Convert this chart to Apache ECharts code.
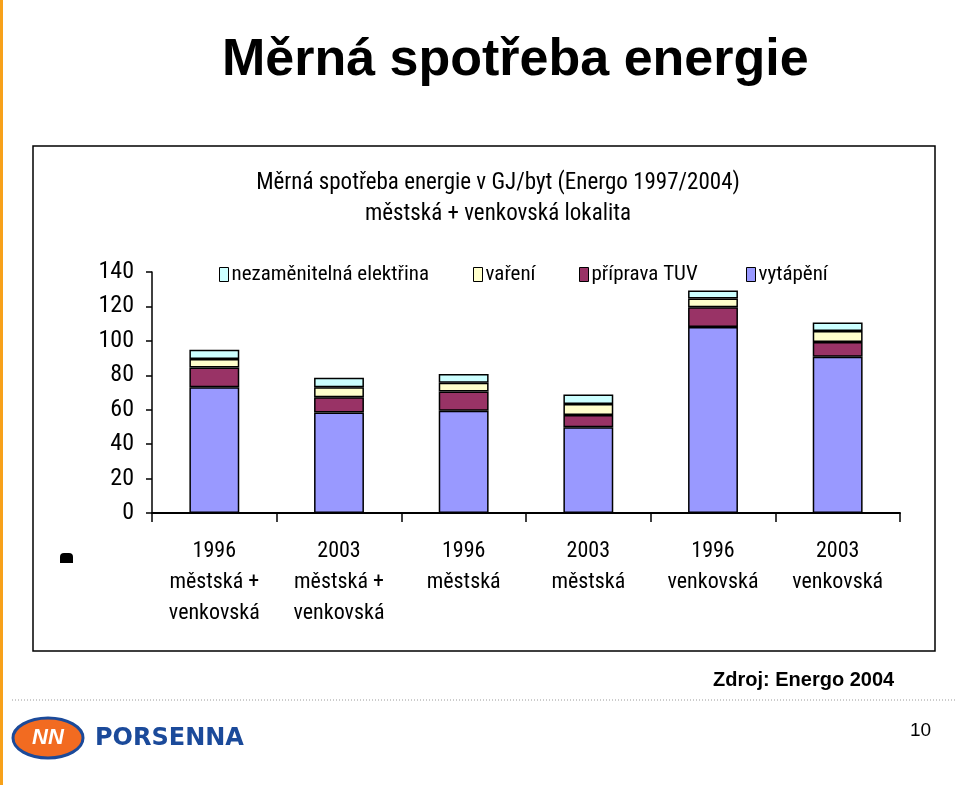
<!DOCTYPE html>
<html><head><meta charset="utf-8">
<script src="https://cdn.jsdelivr.net/npm/echarts@6/dist/echarts.min.js"></script>
<style>html,body{margin:0;padding:0;background:#fff}#c{width:960px;height:785px}</style>
</head><body><div id="c"></div>
<script>
var categories = ['1996\nměstská +\nvenkovská','2003\nměstská +\nvenkovská','1996\nměstská','2003\nměstská','1996\nvenkovská','2003\nvenkovská'];
var vytapeni   = [73.1, 58.4, 59.4, 49.8, 108.1, 90.8];
var pripravaTUV = [11.4, 8.8, 11.2, 7.2, 11.4, 8.6];
var vareni     = [4.9, 5.9, 5.1, 6.3, 5.1, 6.3];
var elektrina  = [5.5, 5.5, 5.1, 5.5, 4.7, 4.9];
var yTicks = [0,20,40,60,80,100,120,140];

var NF = '"Roboto Condensed","Liberation Sans",sans-serif';
var SF = '"Liberation Sans",Arial,sans-serif';
var names = ['nezaměnitelná elektřina','vaření','příprava TUV','vytápění'];
var colors = {'nezaměnitelná elektřina':'#CCFFFF','vaření':'#FFFFCC','příprava TUV':'#993366','vytápění':'#9999FF'};
var legendLeft = [214, 468, 574, 741];

function ser(name, data){
  return {name:name, type:'bar', stack:'s', data:data, barWidth:'40%',
    itemStyle:{color:colors[name], borderColor:'#000', borderWidth:1.5}};
}

var chart = echarts.init(document.getElementById('c'));
chart.setOption({
  animation:false,
  title:{text:'Měrná spotřeba energie v GJ/byt (Energo 1997/2004)\nměstská + venkovská lokalita',
    left:493, textAlign:'center', top:163,
    textStyle:{fontFamily:NF, fontSize:23, fontWeight:'normal', color:'#000', lineHeight:31}},
  legend: names.map(function(n,i){
    return {data:[n], left:legendLeft[i], top:259, itemWidth:9, itemHeight:14,
      icon:'rect', itemStyle:{borderColor:'#000', borderWidth:1}, itemGap:4,
      textStyle:{fontFamily:NF, fontSize:21, color:'#000', padding:[0,0,0,-2]}, selectedMode:false};
  }),
  grid:{left:152, right:60, top:272, bottom:272},
  xAxis:{type:'category', data:categories,
    axisLine:{lineStyle:{color:'#000', width:2}},
    axisTick:{show:true, length:9, lineStyle:{color:'#000', width:1.5}},
    axisLabel:{interval:0, fontFamily:NF, fontSize:22, color:'#000', lineHeight:31, margin:23}},
  yAxis:{type:'value', min:0, max:140, interval:20,
    axisLine:{show:true, lineStyle:{color:'#000', width:1.5}},
    axisTick:{show:true, length:6, lineStyle:{color:'#000', width:1.5}},
    splitLine:{show:false},
    axisLabel:{fontFamily:NF, fontSize:24, color:'#000', margin:18,
      formatter:function(v){return yTicks.indexOf(v)>=0? String(v):'';}}},
  series:[ser('vytápění',vytapeni), ser('příprava TUV',pripravaTUV), ser('vaření',vareni), ser('nezaměnitelná elektřina',elektrina)],
  graphic:[
    {type:'rect', shape:{x:0,y:0,width:3,height:785}, style:{fill:'#F7A11A'}},
    {type:'text', x:222, y:35, style:{text:'Měrná spotřeba energie', fontFamily:SF, fontSize:52, fontWeight:'bold', fill:'#000'}},
    {type:'rect', shape:{x:33,y:146,width:902,height:505}, style:{fill:'none', stroke:'#000', lineWidth:1.5}, z:-1},
    {type:'rect', shape:{x:60,y:553,width:13,height:10,r:[4,4,0,0]}, style:{fill:'#000'}},
    {type:'text', x:713, y:670, style:{text:'Zdroj: Energo 2004', fontFamily:SF, fontSize:20, fontWeight:'bold', fill:'#000'}},
    {type:'line', shape:{x1:12,y1:700,x2:957,y2:700}, style:{stroke:'#999', lineWidth:1, lineDash:[1,2]}},
    {type:'text', x:910, y:721, style:{text:'10', fontFamily:SF, fontSize:19, fill:'#000'}},
    {type:'ellipse', shape:{cx:48, cy:738, rx:35, ry:20}, style:{fill:'#F26B21', stroke:'#1B4A9A', lineWidth:3}},
    {type:'text', x:48, y:738, style:{text:'ΝΝ', fontFamily:SF, fontSize:22, fontWeight:'bold', fontStyle:'italic', fill:'#fff', align:'center', verticalAlign:'middle'}},
    {type:'text', x:95, y:727, style:{text:'PORSENNA', fontFamily:'"DejaVu Sans",sans-serif', fontSize:24, fontWeight:'bold', fill:'#1B4A9A'}}
  ]
});
</script></body></html>
